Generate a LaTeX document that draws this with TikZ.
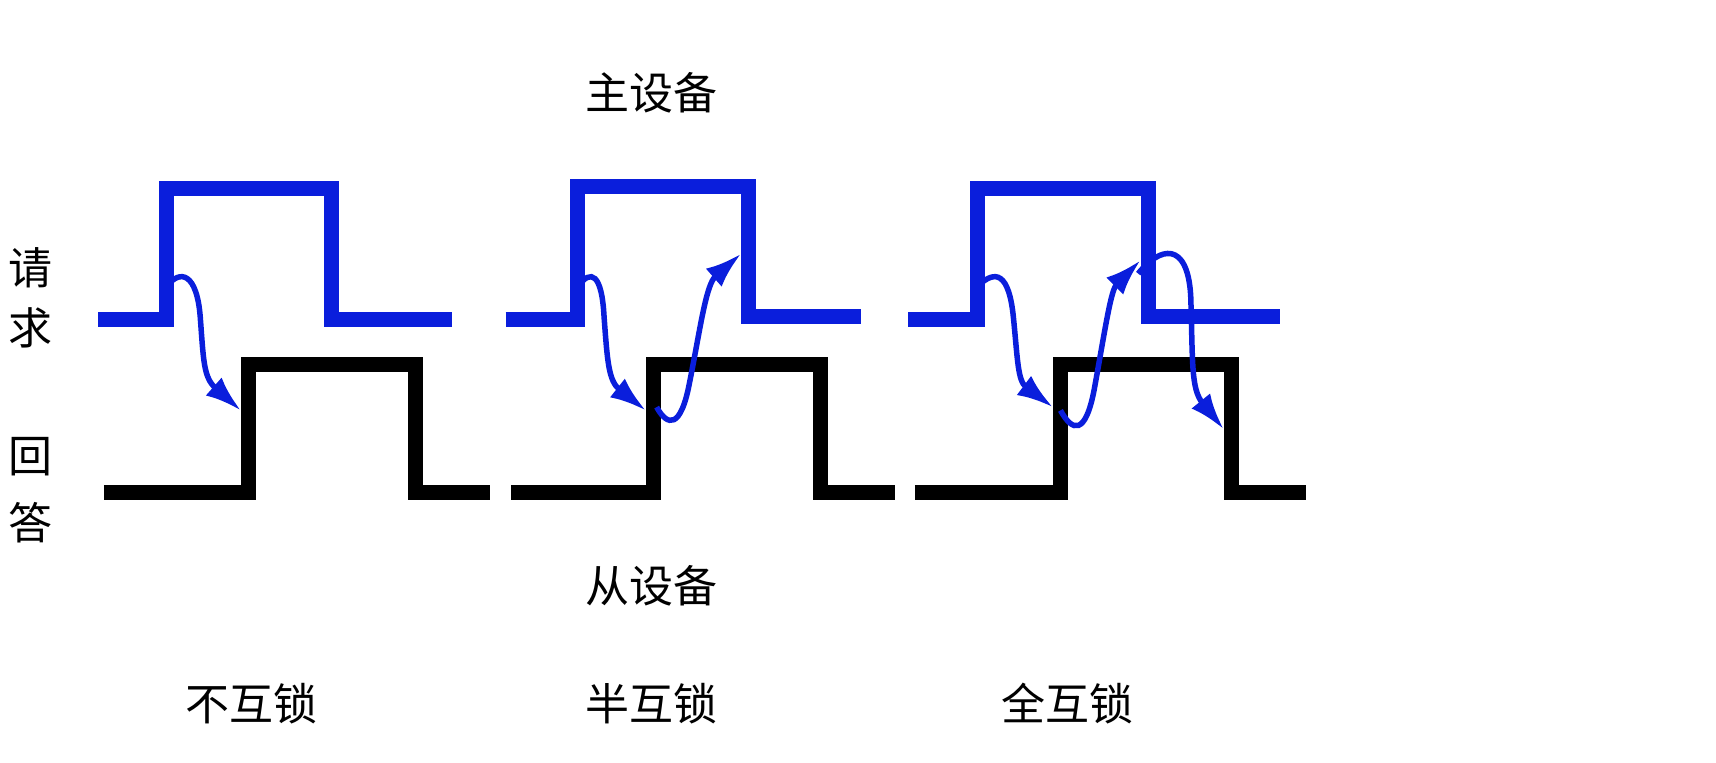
\documentclass[tikz,border=0pt]{standalone}
\usepackage{fontspec}
\newfontfamily\cjk{Noto Sans CJK SC}
\usetikzlibrary{arrows.meta}
\definecolor{sigblue}{RGB}{10,30,220}
\begin{document}
\begin{tikzpicture}[x=1.0944pt,y=-1.0944pt,
  req/.style={draw=sigblue,line width=15pt},
  ack/.style={draw=black,line width=15pt},
  hs/.style={draw=sigblue,line width=5.5pt,-{Latex[length=36pt,width=24pt]}},
  lab/.style={font=\cjk\fontsize{44}{48}\selectfont,inner sep=0pt}]
\useasboundingbox (0,0) rectangle (1568,697);
% signals
\draw[req] (90,292) -- (152,292) -- (152,172) -- (303,172) -- (303,292) -- (413,292);
\draw[ack] (95,450) -- (227,450) -- (227,333) -- (380,333) -- (380,450) -- (448,450);
\draw[req] (462,292) -- (528,292) -- (528,170) -- (684,170) -- (684,289) -- (787,289);
\draw[ack] (467,450) -- (597,450) -- (597,333) -- (750,333) -- (750,450) -- (818,450);
\draw[req] (830,292) -- (893,292) -- (893,172) -- (1049,172) -- (1049,289) -- (1170,289);
\draw[ack] (836,450) -- (969,450) -- (969,333) -- (1125,333) -- (1125,450) -- (1193,450);
% handshake arrows
\coordinate (a1s) at (152,262); \coordinate (a1e) at (220,375);
\draw[hs] (a1s) .. controls (165,245) and (180,250) .. (183,290) .. controls (186,330) and (186,345) .. (a1e);
\coordinate (a2s) at (528,262); \coordinate (a2e) at (590,375);
\draw[hs] (a2s) .. controls (540,245) and (550,250) .. (552,290) .. controls (555,330) and (556,348) .. (a2e);
\coordinate (a3s) at (600,372); \coordinate (a3e) at (677,232);
\draw[hs] (a3s) .. controls (610,390) and (622,392) .. (630,350) .. controls (640,300) and (645,260) .. (a3e);
\coordinate (a4s) at (893,262); \coordinate (a4e) at (962,372);
\draw[hs] (a4s) .. controls (910,245) and (922,250) .. (926,290) .. controls (930,330) and (930,348) .. (a4e);
\coordinate (a5s) at (969,375); \coordinate (a5e) at (1042,238);
\draw[hs] (a5s) .. controls (980,395) and (992,398) .. (1000,355) .. controls (1010,300) and (1015,265) .. (a5e);
\coordinate (a6s) at (1040,250); \coordinate (a6e) at (1118,392);
\draw[hs] (a6s) .. controls (1060,225) and (1085,220) .. (1088,270) .. controls (1090,330) and (1088,355) .. (a6e);
% labels
\node[lab] (master) at (595,85) {主设备};
\node[lab] (slave) at (595,535) {从设备};
\node[lab] (q1) at (28,245) {请};
\node[lab] (q2) at (28,300) {求};
\node[lab] (r1) at (28,417) {回};
\node[lab] (r2) at (28,478) {答};
\node[lab] (n1) at (230,643) {不互锁};
\node[lab] (n2) at (595,643) {半互锁};
\node[lab] (n3) at (975,643) {全互锁};
\end{tikzpicture}
\end{document}
